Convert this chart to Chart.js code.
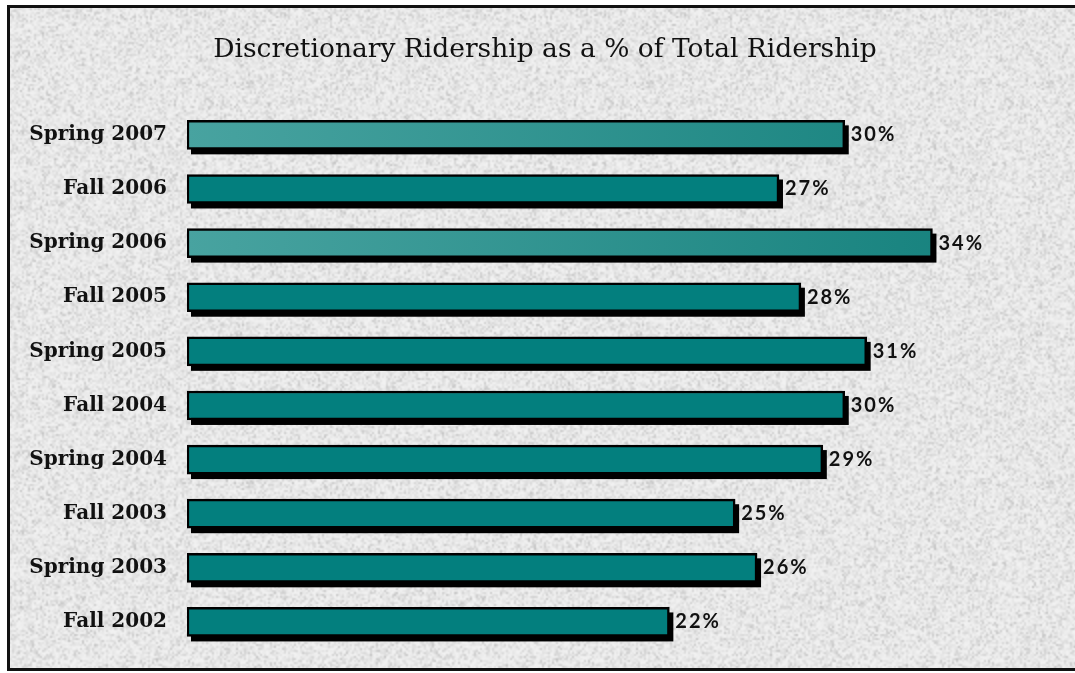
<!DOCTYPE html>
<html>
<head>
<meta charset="utf-8">
<script src="https://cdn.jsdelivr.net/npm/chart.js@4.4.0/dist/chart.umd.min.js"></script>
<style>
  body { margin: 0; background: #fff; overflow: hidden; }
  #frame {
    position: absolute; left: 7px; top: 5px;
    width: 1100px; height: 660px;
    border: 3px solid #111;
    background-color: #e6e6e6;
  }
  #wrap { position: absolute; left: 0; top: 0; width: 1075px; height: 673px; }
</style>
</head>
<body>
<div id="frame"></div>
<div id="wrap"><canvas id="myChart"></canvas></div>
<script>
var terms = ['Spring 2007', 'Fall 2006', 'Spring 2006', 'Fall 2005', 'Spring 2005',
             'Fall 2004', 'Spring 2004', 'Fall 2003', 'Spring 2003', 'Fall 2002'];
var discretionaryPct = [30, 27, 34, 28, 31, 30, 29, 25, 26, 22];
var shadedTerms = ['Spring 2007', 'Spring 2006'];

// speckled grey paper behind the chart
function paperTexture() {
    var c = document.createElement('canvas');
    c.width = 200; c.height = 200;
    var g = c.getContext('2d');
    var img = g.createImageData(200, 200);
    var seed = 7;
    function rnd() { seed = (seed * 16807) % 2147483647; return seed / 2147483647; }
    for (var i = 0; i < img.data.length; i += 4) {
        var v = 242 - Math.floor(rnd() * rnd() * 52);
        img.data[i] = v; img.data[i + 1] = v; img.data[i + 2] = v; img.data[i + 3] = 255;
    }
    g.putImageData(img, 0, 0);
    var f = document.getElementById('frame');
    f.style.backgroundImage = 'url(' + c.toDataURL() + ')';
    f.style.backgroundSize = '400px 400px';
}
paperTexture();

function barFill(ctx) {
    var chart = ctx.chart;
    var area = chart.chartArea;
    if (!area || shadedTerms.indexOf(terms[ctx.dataIndex]) < 0) return '#037f7e';
    var grad = chart.ctx.createLinearGradient(area.left, 0, area.left + 760, 0);
    grad.addColorStop(0, '#48a3a0');
    grad.addColorStop(1, '#18837f');
    return grad;
}

// black drop shadow under every bar, value text after it
var barShadow = {
    id: 'barShadow',
    beforeDatasetsDraw: function (chart) {
        var c = chart.ctx;
        var meta = chart.getDatasetMeta(0);
        c.save();
        c.fillStyle = '#000';
        meta.data.forEach(function (bar) {
            var p = bar.getProps(['x', 'y', 'base', 'height'], true);
            c.fillRect(p.base + 4, p.y - p.height / 2 + 5, p.x - p.base, p.height);
        });
        c.restore();
    },
    afterDatasetsDraw: function (chart) {
        var c = chart.ctx;
        var meta = chart.getDatasetMeta(0);
        c.save();
        c.font = 'bold 20px Lato';
        c.letterSpacing = '2px';
        c.fillStyle = '#111';
        c.textAlign = 'left';
        c.textBaseline = 'middle';
        meta.data.forEach(function (bar, i) {
            c.fillText(discretionaryPct[i] + '%', bar.x + 6, bar.y);
        });
        c.restore();
    }
};

new Chart('myChart', {
    type: 'bar',
    data: {
        labels: terms,
        datasets: [{
            data: discretionaryPct,
            backgroundColor: barFill,
            borderColor: '#000',
            borderWidth: 2.5,
            borderSkipped: false,
            barThickness: 29
        }]
    },
    options: {
        indexAxis: 'y',
        responsive: true,
        maintainAspectRatio: false,
        animation: false,
        layout: { padding: { left: 26, right: 11, top: 0, bottom: 5 } },
        plugins: {
            legend: { display: false },
            tooltip: { enabled: false },
            title: {
                display: true,
                text: 'Discretionary Ridership as a % of Total Ridership',
                color: '#111',
                font: { family: 'DejaVu Serif', size: 26.5, weight: 'normal' },
                padding: { top: 34, bottom: 42 }
            }
        },
        scales: {
            x: { display: false, min: 0, max: 40 },
            y: {
                grid: { display: false },
                border: { display: false },
                ticks: {
                    color: '#111',
                    padding: 12,
                    font: { family: 'DejaVu Serif', size: 20, weight: 'bold' }
                },
                afterFit: function (scale) { scale.width = 161; }
            }
        }
    },
    plugins: [barShadow]
});
</script>
</body>
</html>
